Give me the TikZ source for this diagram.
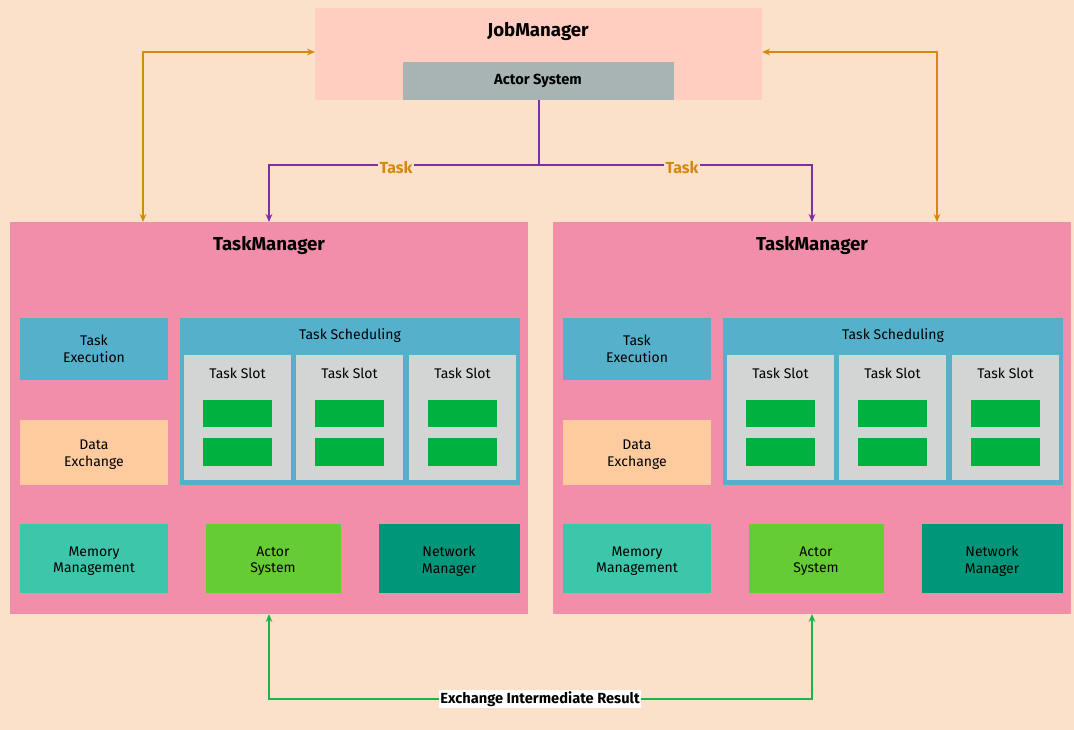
\documentclass[tikz,border=0pt]{standalone}
\usepackage{fontspec}
\setmainfont{Fira Sans}
\usetikzlibrary{arrows.meta}
\definecolor{bg}{HTML}{FBE1C9}
\definecolor{jm}{HTML}{FFCEC1}
\definecolor{gr}{HTML}{A8B4B4}
\definecolor{tm}{HTML}{F28DAA}
\definecolor{bl}{HTML}{55B0CB}
\definecolor{sl}{HTML}{D3D5D5}
\definecolor{gn}{HTML}{00B140}
\definecolor{pe}{HTML}{FDCB9E}
\definecolor{me}{HTML}{3EC6AA}
\definecolor{ac}{HTML}{66CC33}
\definecolor{nw}{HTML}{00967A}
\definecolor{pu}{HTML}{7B2FA8}
\definecolor{og}{HTML}{D48A10}
\definecolor{lg}{HTML}{1DB34A}
\begin{document}
\begin{tikzpicture}[x=0.75pt,y=-0.75pt,
  box/.style={inner sep=0pt,anchor=north west},
  lbl/.style={font=\fontsize{10.5}{12.5}\selectfont,align=center},
  ttl/.style={font=\fontsize{14}{16}\selectfont\bfseries},
  arr/.style={-{Stealth[length=6pt,width=5pt]},line width=1pt}]
\fill[bg] (0,0) rectangle (1074,730);
\useasboundingbox (0,0) rectangle (1074,730);
\fill[jm] (315,8) rectangle (762,100);
\node[ttl] (jm) at (538,31) {JobManager};
\fill[gr] (403,62) rectangle (674,100);
\node[lbl,font=\fontsize{11}{13}\selectfont\bfseries] (jas) at (538,81) {Actor System};
\foreach \o/\n in {0/L,543/R}{
\begin{scope}[xshift=\o*0.75pt]
\fill[tm] (10,222) rectangle (528,614);
\coordinate (tm\n) at (269,222);
\coordinate (tmb\n) at (269,614);
\node[ttl] at (269,245) {TaskManager};
\fill[bl] (20,318) rectangle (168,380);
\node[lbl] at (94,349) {Task\\Execution};
\fill[bl] (180,318) rectangle (520,485);
\node[lbl] at (350,336) {Task Scheduling};
\foreach \sx in {184,296,409}{
 \fill[sl] (\sx,355) rectangle (\sx+107,480);
 \node[lbl] at (\sx+53.5,373) {Task Slot};
 \fill[gn] (\sx+19,400) rectangle (\sx+88,427);
 \fill[gn] (\sx+19,438) rectangle (\sx+88,466);
}
\fill[pe] (20,420) rectangle (168,485);
\node[lbl] at (94,455) {Data\\Exchange};
\fill[me] (20,524) rectangle (168,593);
\node[lbl] at (94,561) {Memory\\Management};
\fill[ac] (206,524) rectangle (341,593);
\node[lbl] at (273,561) {Actor\\System};
\fill[nw] (379,524) rectangle (520,593);
\node[lbl] at (449,561) {Network\\Manager};
\end{scope}}
\coordinate (jmL) at (315,52);
\coordinate (jmR) at (762,52);
\coordinate (tl) at (143,222);
\coordinate (tr) at (937,222);
\draw[og,arr,{Stealth[length=6pt,width=5pt]}-{Stealth[length=6pt,width=5pt]}] (tl) |- (jmL);
\draw[og,arr,{Stealth[length=6pt,width=5pt]}-{Stealth[length=6pt,width=5pt]}] (tr) |- (jmR);
\coordinate (pm) at (539,165);
\draw[pu,line width=1pt] (539,100) -- (pm);
\draw[pu,arr] (pm) -| (tmL);
\draw[pu,arr] (pm) -| (tmR);
\node[og,font=\fontsize{12}{14}\selectfont\bfseries,fill=bg,inner sep=1pt] at (396,168) {Task};
\node[og,font=\fontsize{12}{14}\selectfont\bfseries,fill=bg,inner sep=1pt] at (682,168) {Task};
\coordinate (gm) at (540,699);
\draw[lg,arr] (gm) -| (tmbL);
\draw[lg,arr] (gm) -| (tmbR);
\node[font=\fontsize{11}{13}\selectfont\bfseries,fill=white,inner sep=1pt] (ex) at (540,699) {Exchange Intermediate Result};
\end{tikzpicture}
\end{document}
